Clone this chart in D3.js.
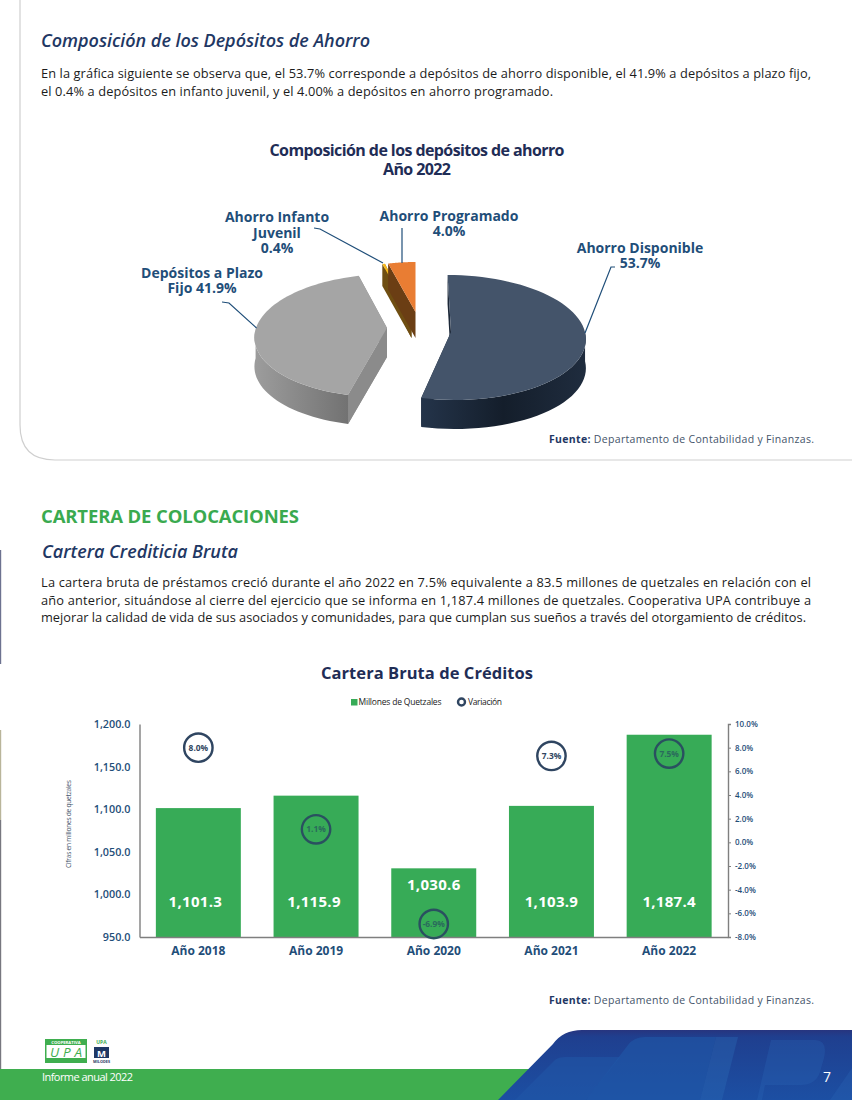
<!DOCTYPE html>
<html><head><meta charset="utf-8">
<script src="https://cdnjs.cloudflare.com/ajax/libs/d3/7.8.5/d3.min.js"></script>
<style>html,body{margin:0;padding:0;background:#fff}svg{display:block}text{font-family:"Open Sans",sans-serif}</style>
</head><body><svg id="c" width="852" height="1100"></svg>
<script>
const pieCategories = ["Ahorro Disponible","Depósitos a Plazo Fijo","Ahorro Infanto Juvenil","Ahorro Programado"];
const pieValues = [53.7,41.9,0.4,4.0];
const barYears = ["Año 2018","Año 2019","Año 2020","Año 2021","Año 2022"];
const barValues = [1101.3,1115.9,1030.6,1103.9,1187.4];
const variation = [8.0,1.1,-6.9,7.3,7.5];
const leftTicks = [950,1000,1050,1100,1150,1200];
const rightTicks = [-8,-6,-4,-2,0,2,4,6,8,10];

const svg = d3.select("#c");
const defs = svg.append("defs");
const NAVY="#1f2d56", BLUE="#1f4e79", GREEN="#37ab57", HEAD="#1f3864", BODY="#1c1c1c";

function txt(s,x,y,o={}){
  const t=svg.append("text").attr("x",x).attr("y",y).text(s)
    .attr("font-size",o.size||13).attr("font-weight",o.weight||400).attr("fill",o.fill||"#222")
    .attr("text-anchor",o.anchor||"start");
  if(o.style) t.attr("font-style",o.style);
  if(o.len) t.attr("textLength",o.len).attr("lengthAdjust",o.adjust||"spacing");
  return t;
}
function multi(lines,x,y,dy){
  const t=svg.append("text").attr("x",x).attr("y",y).attr("font-size",14).attr("font-weight",700)
    .attr("fill",BLUE).attr("text-anchor","middle");
  lines.forEach((l,i)=>t.append("tspan").attr("x",x).attr("y",y+i*dy).text(l));
}
// page frame
svg.append("path").attr("d","M20,0V425Q20,460 55,460H852").attr("fill","none").attr("stroke","#cfcfcf").attr("stroke-width",1.2);
[[550,664,"#6d7290"],[730,820,"#b9b59a"],[820,1069,"#77777f"]].forEach(s=>
  svg.append("line").attr("x1",0.5).attr("x2",0.5).attr("y1",s[0]).attr("y2",s[1]).attr("stroke",s[2]).attr("stroke-width",1.4));

// headings and paragraphs
txt("Composición de los Depósitos de Ahorro",41,47,{size:18,weight:600,style:"italic",fill:HEAD,len:329});
txt("En la gráfica siguiente se observa que, el 53.7% corresponde a depósitos de ahorro disponible, el 41.9% a depósitos a plazo fijo,",41,78,{size:12.8,len:770,fill:BODY});
txt("el 0.4% a depósitos en infanto juvenil, y el 4.00% a depósitos en ahorro programado.",41,96,{size:12.8,len:512,fill:BODY});
txt("CARTERA DE COLOCACIONES",41,522.5,{size:18.5,weight:700,fill:"#3aaa4f",len:258});
txt("Cartera Crediticia Bruta",42,558,{size:18,weight:600,style:"italic",fill:HEAD,len:196});
txt("La cartera bruta de préstamos creció durante el año 2022 en 7.5% equivalente a 83.5 millones de quetzales en relación con el",41,587,{size:12.8,len:770,fill:BODY});
txt("año anterior, situándose al cierre del ejercicio que se informa en 1,187.4 millones de quetzales. Cooperativa UPA contribuye a",41,604.5,{size:12.8,len:770,fill:BODY});
txt("mejorar la calidad de vida de sus asociados y comunidades, para que cumplan sus sueños a través del otorgamiento de créditos.",41,622,{size:12.8,len:765,fill:BODY});

function fuente(y){
  const t=svg.append("text").attr("x",549).attr("y",y).attr("font-size",10.5).attr("textLength",265).attr("fill","#44546a");
  t.append("tspan").attr("font-weight",700).attr("fill",HEAD).text("Fuente: ");
  t.append("tspan").text("Departamento de Contabilidad y Finanzas.");
}
fuente(443); fuente(1004);

// ---------- 3D pie ----------
txt("Composición de los depósitos de ahorro",417,156,{size:16,weight:700,fill:NAVY,anchor:"middle",len:295});
txt("Año 2022",417,175,{size:16,weight:700,fill:NAVY,anchor:"middle",len:68});

const pieStyle = [
 {ax:451,ay:332,rx:134,ry:62,p:.088,sh:.06,d:29,top:"#44546a",grad:["#24344a","#141e2b","#1f2c3e"],cut:"#1c2838"},
 {ax:387,ay:328,rx:131,ry:60.6,p:.122,sh:-.07,d:29,top:"#a5a5a5",grad:["#9c9c9c","#858585","#6e6e6e"],cut:"#8b8b8b"},
 {ax:411.5,ay:316,rx:107,ry:54,p:0,sh:0,d:22,top:"#f7bb1e",grad:["#6f4e12","#6f4e12","#6f4e12"],cut:"#6f4e12"},
 {ax:415.5,ay:312,rx:110,ry:50,p:0,sh:0,d:26,top:"#e97d33",grad:["#6b3e14","#6b3e14","#6b3e14"],cut:"#6b3e14"}
];
const arcs = d3.pie().sort(null)(pieValues);
const line = d3.line().x(d=>d[0]).y(d=>d[1]);
function project(s,r,a){
  const u=r*Math.sin(a), v=-r*Math.cos(a), w=1/(1-s.p*v);
  const dy=s.ry*v*w;
  return [s.ax+s.rx*u*w+s.sh*dy, s.ay+dy];
}
const drop=(p,d)=>[p[0],p[1]+d];
[1,0,2,3].forEach(i=>{
  const a=arcs[i], s=pieStyle[i], g=svg.append("g");
  const gid="rim"+i;
  const lg=defs.append("linearGradient").attr("id",gid).attr("gradientUnits","userSpaceOnUse")
    .attr("x1",s.ax-s.rx).attr("x2",s.ax+s.rx).attr("y1",0).attr("y2",0);
  if(i===0){lg.attr("x1",s.ax-30);}
  if(i===1){lg.attr("x2",s.ax-30);}
  s.grad.forEach((c,k)=>lg.append("stop").attr("offset",k/2).attr("stop-color",c));
  const N=d3.range(0,61).map(k=>a.startAngle+(a.endAngle-a.startAngle)*k/60);
  const rimPts=N.map(t=>project(s,1,t));
  const apex=project(s,0,0);
  const cuts=[rimPts[0],rimPts[60]].map(c=>({c,my:(c[1]+apex[1])/2}));
  cuts.sort((x,y)=>x.my-y.my).forEach(q=>{
    g.append("path").attr("d",line([apex,q.c,drop(q.c,s.d),drop(apex,s.d)])+"Z").attr("fill",s.cut);
  });
  const front=N.filter(t=>Math.cos(t)<0.02).map(t=>project(s,1,t));
  if(front.length>1){
    g.append("path").attr("d",line(front.concat(front.slice().reverse().map(p=>drop(p,s.d))))+"Z").attr("fill","url(#"+gid+")");
    if(i===1) cuts.forEach(q=>{ if(q.c[1]>apex[1]) g.append("path").attr("d",line([apex,q.c,drop(q.c,s.d),drop(apex,s.d)])+"Z").attr("fill",s.cut); });
  }
  g.append("path").attr("d",line([apex].concat(rimPts))+"Z").attr("fill",s.top);
});
// leader lines
const leaders=[
 [[615,267],[611,267],[585,333]],
 [[222,302],[229,303],[256.5,328]],
 [[314,228],[320,229],[383,263]],
 [[402,228],[402,263]]
];
leaders.forEach(l=>svg.append("path").attr("d",line(l)).attr("fill","none").attr("stroke",BLUE).attr("stroke-width",1.2));
multi(["Ahorro Disponible","53.7%"],640,253,15);
multi(["Ahorro Programado","4.0%"],449,221,15);
multi(["Ahorro Infanto","Juvenil","0.4%"],277,222,15.5);
multi(["Depósitos a Plazo","Fijo 41.9%"],202,278,15);

// ---------- bar chart ----------
txt("Cartera Bruta de Créditos",427,679,{size:16.5,weight:700,fill:NAVY,anchor:"middle",len:212});
const L=139.5,R=728,T=724,B=937;
const x=d3.scaleBand().domain(barYears).range([L,R]).paddingInner(.278).paddingOuter(.139);
const yL=d3.scaleLinear().domain([950,1200]).range([B,T]);
const yR=d3.scaleLinear().domain([-8,10]).range([B,T]);

// legend
svg.append("rect").attr("x",351).attr("y",699).attr("width",6.5).attr("height",6.5).attr("fill",GREEN);
txt("Millones de Quetzales",358.5,705,{size:8.5,fill:"#222",len:83});
svg.append("circle").attr("cx",461.5).attr("cy",702).attr("r",3.5).attr("fill","#fff").attr("stroke","#2f4561").attr("stroke-width",2.4);
txt("Variación",468,705,{size:8.5,fill:"#222",len:34});

svg.selectAll(".bar").data(barYears).join("rect").attr("class","bar")
  .attr("x",d=>x(d)).attr("width",x.bandwidth())
  .attr("y",(d,i)=>yL(barValues[i])).attr("height",(d,i)=>B-yL(barValues[i])).attr("fill",GREEN);

const hy=s=>s.replace("\u2212","-");
const axL=svg.append("g").attr("transform",`translate(${L},0)`)
  .call(d3.axisLeft(yL).tickValues(leftTicks).tickFormat(d3.format(",.1f")).tickSize(0).tickPadding(9));
axL.selectAll("text").attr("font-size",10.8).attr("font-weight",600).attr("fill",BLUE).style("font-family",'"Open Sans",sans-serif');
const axR=svg.append("g").attr("transform",`translate(${R},0)`)
  .call(d3.axisRight(yR).tickValues(rightTicks).tickFormat(d=>hy(d3.format(".1f")(d))+"%").tickSize(3).tickPadding(4));
axR.selectAll("text").attr("font-size",8).attr("font-weight",600).attr("fill",BLUE).style("font-family",'"Open Sans",sans-serif');
[axL,axR].forEach(a=>{a.selectAll(".domain").attr("stroke","#7f7f7f").attr("stroke-width",1.4);a.selectAll("line").attr("stroke","#7f7f7f");});
const axB=svg.append("g").attr("transform",`translate(0,${B})`)
  .call(d3.axisBottom(x).tickSize(0).tickPadding(9));
axB.selectAll("text").attr("font-size",12).attr("font-weight",700).attr("fill",BLUE).style("font-family",'"Open Sans",sans-serif');
axB.selectAll(".domain").attr("stroke","#7f7f7f").attr("stroke-width",1.4);

svg.append("text").attr("transform",`translate(71,824) rotate(-90)`).attr("text-anchor","middle")
  .attr("font-size",6.6).attr("fill","#44546a").attr("textLength",88).text("Cifras en millones de quetzales");

const labelShift=[-3,-2,0,0,0];
svg.selectAll(".barlab").data(barYears).join("text").attr("class","barlab")
  .attr("x",(d,i)=>x(d)+x.bandwidth()/2+labelShift[i]).attr("y",(d,i)=>barValues[i]<1050?890:907)
  .attr("text-anchor","middle").attr("font-size",15).attr("font-weight",700).attr("fill","#fff").attr("letter-spacing",.3)
  .text((d,i)=>d3.format(",.1f")(barValues[i]));

const inBar=i=>yR(variation[i])>yL(barValues[i]);
const cg=svg.selectAll(".var").data(barYears).join("g").attr("class","var")
  .attr("transform",(d,i)=>`translate(${x(d)+x.bandwidth()/2},${yR(variation[i])})`);
cg.append("circle").attr("r",14.2).attr("fill","none").attr("stroke",(d,i)=>inBar(i)?"#2a5060":"#2f4561").attr("stroke-width",2.4);
cg.append("text").attr("text-anchor","middle").attr("y",3).attr("font-size",8.4).attr("font-weight",700)
  .attr("fill",(d,i)=>inBar(i)?"#2a6a5c":"#2f4561")
  .text((d,i)=>variation[i].toFixed(1)+"%");

// ---------- footer ----------
svg.append("rect").attr("x",0).attr("y",1069).attr("width",600).attr("height",31).attr("fill","#3fae4f");
const fg=defs.append("linearGradient").attr("id","fb").attr("x1",0).attr("x2",0).attr("y1",0).attr("y2",1);
[["0","#27357f"],["0.1","#1f3f8f"],["1","#1c4fa3"]].forEach(s=>fg.append("stop").attr("offset",s[0]).attr("stop-color",s[1]));
svg.append("path").attr("d","M498,1100L553,1044Q563,1030 582,1030H852V1100Z").attr("fill","url(#fb)");
[["M515,1100L555,1060Q558,1057 566,1057H620L586,1100Z","#2058a8",.55],
 ["M586,1100L628,1045Q634,1037 645,1037H716L700,1100Z","#2058a8",.6],
 ["M716,1037H738L722,1100H700Z","#2a68b5",.4],
 ["M757,1100L771,1040H815Q828,1040 824,1058L820,1072Q816,1085 800,1085H765L762,1100Z","#2a68b5",.3],
 ["M830,1100L852,1068V1100Z","#2a68b5",.3]
].forEach(s=>svg.append("path").attr("d",s[0]).attr("fill",s[1]).attr("opacity",s[2]));
txt("Informe anual 2022",42,1081,{size:11,fill:"#fff",len:91});
txt("7",827,1082,{size:14,fill:"#fff",anchor:"middle"});
// logos
svg.append("rect").attr("x",45).attr("y",1039).attr("width",42).attr("height",24).attr("fill","#3fae4f");
svg.append("rect").attr("x",46.5).attr("y",1045).attr("width",39).attr("height",13).attr("fill","#fff");
svg.append("text").attr("x",66).attr("y",1043.6).attr("font-size",4.2).attr("font-weight",700).attr("fill","#fff").attr("text-anchor","middle").text("COOPERATIVA");
txt("UPA",66,1057,{size:13.5,weight:400,style:"italic",fill:"#3fae4f",anchor:"middle",len:32});
svg.append("text").attr("x",101.5).attr("y",1044).attr("font-size",5).attr("font-weight",700).attr("fill","#3fae4f").attr("text-anchor","middle").text("UPA");
svg.append("rect").attr("x",94).attr("y",1047).attr("width",15).attr("height",11).attr("fill","#1f3864");
svg.append("text").attr("x",101.5).attr("y",1056.5).attr("font-size",9.5).attr("font-weight",700).attr("fill","#fff").attr("text-anchor","middle").text("M");
svg.append("text").attr("x",101.5).attr("y",1062.8).attr("font-size",3.8).attr("font-weight",700).attr("fill","#1f3864").attr("text-anchor","middle").text("MILODES");
</script></body></html>
